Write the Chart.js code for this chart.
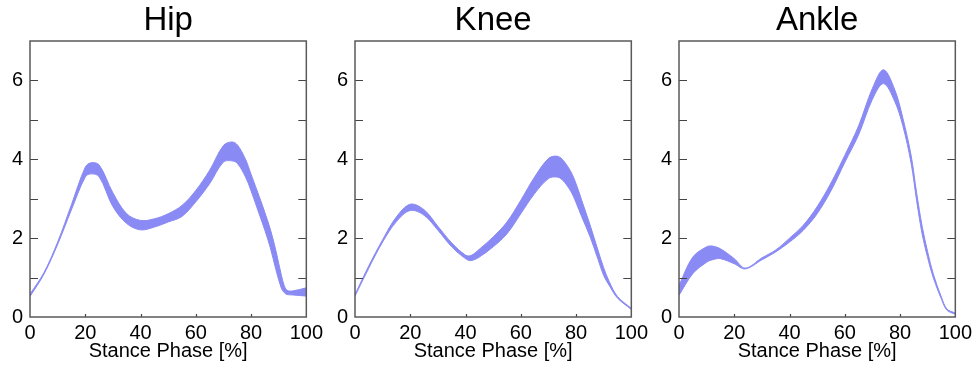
<!DOCTYPE html>
<html>
<head>
<meta charset="utf-8">
<script src="https://cdn.jsdelivr.net/npm/chart.js@4"></script>
<style>
html,body{margin:0;padding:0;background:#fff;overflow:hidden;width:975px;height:372px;}
.p{position:absolute;top:0;}
</style>
</head>
<body>
<div class="p" style="left:0px"><canvas id="c0" width="327" height="372"></canvas></div>
<div class="p" style="left:325px"><canvas id="c1" width="327" height="372"></canvas></div>
<div class="p" style="left:649px"><canvas id="c2" width="327" height="372"></canvas></div>
<script>
// ---- data ----
const titles = ["Hip", "Knee", "Ankle"];
const xAxisLabel = "Stance Phase [%]";
const yTickLabels = [0, 2, 4, 6];
const xTickLabels = [0, 20, 40, 60, 80, 100];
const yMinorTicks = [1, 2, 3, 4, 5, 6];
const xInnerTicks = [20, 40, 60, 80];

const hipX     = [0, 5, 10, 15, 20, 22, 25, 30, 35, 40, 45, 50, 55, 60, 65, 70, 73, 75, 78, 80, 83, 85, 87, 89, 91, 92, 93, 95, 100];
const hipUpper = [0.58, 1.12, 1.9, 2.85, 3.8, 3.91, 3.86, 3.15, 2.62, 2.45, 2.49, 2.62, 2.83, 3.21, 3.72, 4.35, 4.44, 4.37, 4.0, 3.62, 3.05, 2.65, 2.22, 1.68, 1.05, 0.8, 0.68, 0.66, 0.74];
const hipLower = [0.52, 1.08, 1.84, 2.72, 3.55, 3.63, 3.56, 2.8, 2.37, 2.21, 2.28, 2.41, 2.55, 2.92, 3.38, 3.93, 3.96, 3.9, 3.55, 3.2, 2.6, 2.2, 1.75, 1.2, 0.72, 0.62, 0.57, 0.56, 0.53];

const kneeX     = [0, 5, 10, 15, 20, 25, 30, 35, 40, 42, 45, 50, 55, 60, 65, 70, 73, 75, 78, 80, 82, 85, 88, 90, 92, 95, 100];
const kneeUpper = [0.57, 1.3, 1.96, 2.54, 2.86, 2.72, 2.3, 1.88, 1.57, 1.56, 1.72, 2.03, 2.41, 2.96, 3.55, 4.02, 4.08, 4.0, 3.7, 3.38, 2.97, 2.35, 1.68, 1.25, 0.9, 0.52, 0.22];
const kneeLower = [0.53, 1.24, 1.9, 2.42, 2.7, 2.58, 2.2, 1.78, 1.48, 1.43, 1.52, 1.78, 2.11, 2.62, 3.13, 3.51, 3.55, 3.48, 3.2, 2.9, 2.55, 2.05, 1.45, 1.05, 0.8, 0.48, 0.19];

const ankleX     = [0, 5, 10, 12, 15, 20, 24, 30, 35, 40, 45, 50, 55, 60, 65, 70, 74, 78, 81, 84, 86, 88, 90, 92, 95, 97, 100];
const ankleUpper = [0.8, 1.52, 1.78, 1.8, 1.73, 1.48, 1.24, 1.5, 1.7, 2.0, 2.33, 2.8, 3.4, 4.1, 4.85, 5.8, 6.27, 5.78, 5.05, 4.1, 3.15, 2.3, 1.65, 1.1, 0.5, 0.2, 0.1];
const ankleLower = [0.55, 1.1, 1.39, 1.45, 1.48, 1.35, 1.22, 1.45, 1.65, 1.9, 2.2, 2.62, 3.2, 3.92, 4.62, 5.52, 5.92, 5.48, 4.85, 3.9, 2.95, 2.1, 1.5, 1.0, 0.45, 0.17, 0.07];

const panelX = [hipX, kneeX, ankleX];
const panelUpper = [hipUpper, kneeUpper, ankleUpper];
const panelLower = [hipLower, kneeLower, ankleLower];

// ---- drawing ----
const FONT = "'Liberation Sans', Arial, Helvetica, sans-serif";
const bandColor = 'rgb(138,138,244)';

const framePlugin = {
  id: 'frame',
  afterDatasetsDraw(chart) {
    const {ctx, chartArea: a, scales: {x, y}} = chart;
    ctx.save();
    ctx.strokeStyle = '#444';
    ctx.lineWidth = 1.2;
    ctx.beginPath();
    yMinorTicks.forEach(v => {
      const py = Math.round(y.getPixelForValue(v)) + 0.5;
      ctx.moveTo(a.left, py); ctx.lineTo(a.left + 8, py);
      ctx.moveTo(a.right - 8, py); ctx.lineTo(a.right, py);
    });
    xInnerTicks.forEach(v => {
      const px = Math.round(x.getPixelForValue(v)) + 0.5;
      ctx.moveTo(px, a.bottom); ctx.lineTo(px, a.bottom - 3);
    });
    ctx.stroke();
    ctx.strokeStyle = '#5a5a5a';
    ctx.lineWidth = 1.5;
    ctx.strokeRect(a.left, a.top, a.right - a.left, a.bottom - a.top);
    ctx.restore();
  }
};

function pts(xs, ys) { return xs.map((v, i) => ({x: v, y: ys[i]})); }

for (let i = 0; i < 3; i++) {
  new Chart(document.getElementById('c' + i), {
    type: 'line',
    data: {
      datasets: [
        {
          data: pts(panelX[i], panelUpper[i]),
          borderColor: bandColor, backgroundColor: bandColor,
          borderWidth: 1, pointRadius: 0, fill: '+1',
          tension: 0.35
        },
        {
          data: pts(panelX[i], panelLower[i]),
          borderColor: bandColor, backgroundColor: bandColor,
          borderWidth: 1, pointRadius: 0, fill: false,
          tension: 0.35
        }
      ]
    },
    options: {
      responsive: false,
      animation: false,
      devicePixelRatio: 1,
      layout: {padding: {left: 0, right: 20, top: 0, bottom: 0}},
      plugins: {
        legend: {display: false},
        tooltip: {enabled: false},
        title: {
          display: true, text: titles[i], color: '#000', fullSize: false,
          font: {family: FONT, size: 33, weight: 'normal'},
          padding: {top: 1, bottom: 0.4}
        }
      },
      scales: {
        x: {
          type: 'linear', min: 0, max: 100,
          grid: {display: false, drawTicks: false},
          border: {display: false},
          afterBuildTicks: s => { s.ticks = xTickLabels.map(v => ({value: v})); },
          ticks: {color: '#000', padding: 4, maxRotation: 0, font: {family: FONT, size: 20}},
          title: {display: true, text: xAxisLabel, color: '#000', font: {family: FONT, size: 20}, padding: {top: 0, bottom: 9}},
          afterFit: s => { s.height = 55; }
        },
        y: {
          min: 0, max: 7,
          grid: {display: false, drawTicks: false},
          border: {display: false},
          afterBuildTicks: s => { s.ticks = yTickLabels.map(v => ({value: v})); },
          ticks: {color: '#000', padding: 7, font: {family: FONT, size: 20}},
          afterFit: s => { s.width = 30; }
        }
      }
    },
    plugins: [framePlugin]
  });
}
</script>
</body>
</html>
